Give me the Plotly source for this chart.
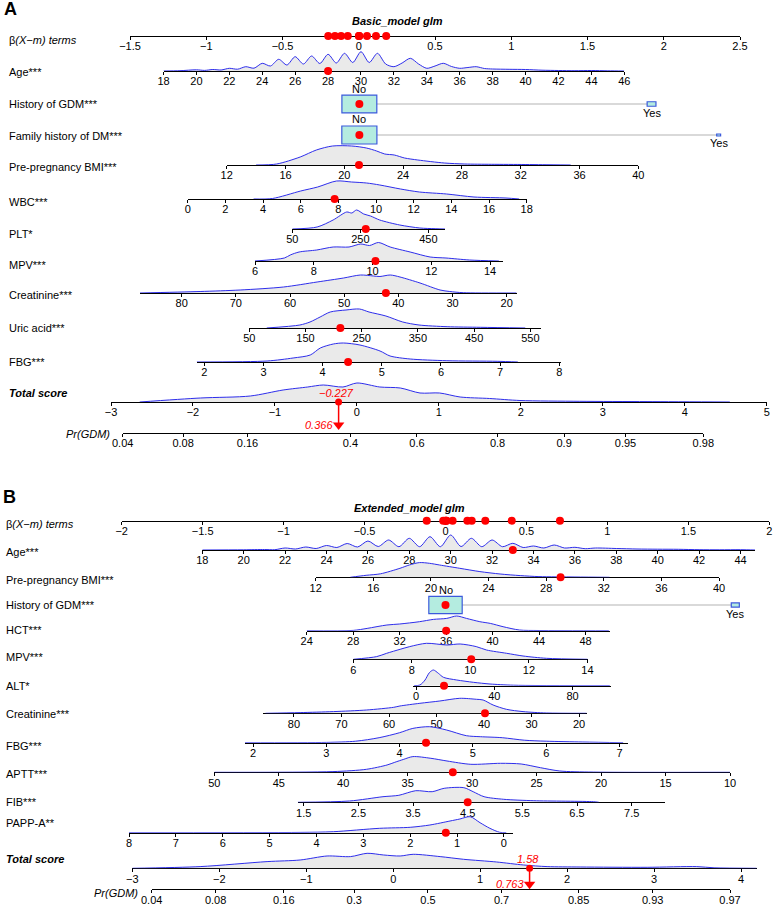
import math
import plotly.graph_objects as go

W, H = 778, 904
FONT = "Liberation Sans, Arial, Helvetica, sans-serif"
BLUE = "rgb(45,45,235)"
FILL = "rgb(234,234,234)"
RED = "#ff0000"
MINT = "rgb(180,236,224)"
BOXLINE = "rgb(60,90,220)"
GRAYLINE = "rgb(205,205,205)"
DH = 22          # height (px) of each density strip
BOX_W, BOX_H = 36, 18.5

# ======================= Panel A data =======================
A_title = "Basic_model glm"
A_beta_range = [-1.5, 2.5]
A_beta_ticks = [-1.5, -1, -0.5, 0, 0.5, 1, 1.5, 2, 2.5]
A_beta_points = [-0.200, -0.156, -0.116, -0.072, 0.002, 0.002, 0.002, 0.054, 0.113, 0.180]

A_age_range = [18, 46]
A_age_ticks = [18, 20, 22, 24, 26, 28, 30, 32, 34, 36, 38, 40, 42, 44, 46]
A_age_x = [18, 19, 20, 20.5, 21, 21.5, 22, 22.5, 23, 23.5, 24, 24.5, 25, 25.5, 26, 26.5, 27, 27.5, 28, 28.5,
           29, 29.5, 30, 30.5, 31, 31.5, 32, 32.5, 33, 33.5, 34, 34.5, 35, 35.5, 36, 36.5, 37, 37.5, 38, 39,
           40, 41, 42, 43, 44, 45, 46]
A_age_d = [0, 0.3, 1.2, 0.6, 1.5, 1.0, 2.7, 1.8, 4.3, 2.8, 7.7, 5.0, 11.7, 6.0, 14.3, 7.0, 15.0, 7.5, 16.7, 8.0,
           17.7, 8.5, 19.3, 8.5, 17.7, 7.0, 4.3, 8.0, 12.7, 7.0, 2.7, 5.0, 7.7, 4.5, 2.7, 3.5, 4.3, 2.5, 2.0, 1.7,
           1.5, 0.8, 0.5, 0.3, 0.5, 0.2, 0]
A_age_val = 28

A_gdm_levels = ["No", "Yes"]
A_gdm_beta = [0.004, 1.92]
A_gdm_freq = [0.94, 0.06]
A_fam_levels = ["No", "Yes"]
A_fam_beta = [0.004, 2.36]
A_fam_freq = [0.95, 0.012]

A_bmi_range = [12, 40]
A_bmi_ticks = [12, 16, 20, 24, 28, 32, 36, 40]
A_bmi_x = [14.0, 15.4, 17.0, 18.1, 19.2, 20.5, 21.5, 22.2, 22.75, 23.4, 24.1, 25.0, 26.8, 28.2, 30.0, 32.3, 33.5, 35.4]
A_bmi_d = [0, 1.0, 8.0, 15.0, 19.0, 19.0, 17.0, 14.0, 11.0, 10.0, 7.0, 5.0, 2.0, 1.0, 0.7, 0.5, 0.3, 0]
A_bmi_val = 21.0

A_wbc_range = [0, 18]
A_wbc_ticks = [0, 2, 4, 6, 8, 10, 12, 14, 16, 18]
A_wbc_x = [3.5, 4.5, 6.0, 6.9, 7.9, 8.7, 9.5, 10.2, 11.3, 12.3, 13.75, 15.2, 16.9, 17.6]
A_wbc_d = [0, 0.5, 8.0, 12.0, 18.0, 17.0, 16.0, 14.0, 10.0, 7.0, 5.0, 2.0, 1.0, 0]
A_wbc_val = 7.8

A_plt_range = [50, 499]
A_plt_ticks = [50, 250, 450]
A_plt_x = [50, 123, 170, 210, 225, 239, 260, 280, 307, 366, 425, 470, 499]
A_plt_d = [0, 2.0, 9.0, 17.0, 16.0, 19.0, 15.0, 13.0, 9.0, 4.0, 1.0, 0.3, 0]
A_plt_val = 266

A_mpv_range = [6, 14.43]
A_mpv_ticks = [6, 8, 10, 12, 14]
A_mpv_x = [6.0, 7.0, 7.2, 7.5, 8.1, 8.66, 9.2, 9.6, 9.9, 10.2, 10.6, 11.28, 11.96, 12.5, 13.3, 14.3]
A_mpv_d = [0, 3.0, 6.0, 9.0, 11.0, 14.0, 14.0, 17.0, 15.5, 18.5, 14.0, 9.0, 4.0, 3.0, 1.0, 0]
A_mpv_val = 10.1

A_creat_range = [87.7, 18.15]
A_creat_ticks = [80, 70, 60, 50, 40, 30, 20]
A_creat_x = [87.7, 76.6, 69.2, 61.2, 55.0, 50.1, 47.0, 44.6, 43.4, 41.5, 39.7, 36.0, 32.3, 30.5, 28.0, 18.2]
A_creat_d = [0, 1.5, 3.0, 6.0, 11.0, 15.0, 18.0, 17.0, 16.5, 18.0, 16.0, 10.0, 3.0, 1.5, 0.3, 0]
A_creat_val = 42.3

A_uric_range = [50, 569]
A_uric_ticks = [50, 150, 250, 350, 450, 550]
A_uric_x = [81, 140, 158, 176, 194, 222, 246, 263, 293, 323, 352, 402, 461, 541]
A_uric_d = [0, 3.0, 6.0, 11.0, 16.0, 18.0, 19.0, 16.0, 12.0, 6.0, 3.0, 1.3, 0.7, 0]
A_uric_val = 212

A_fbg_range = [1.87, 8.03]
A_fbg_ticks = [2, 3, 4, 5, 6, 7, 8]
A_fbg_x = [1.87, 3.06, 3.5, 3.79, 3.96, 4.18, 4.35, 4.63, 4.97, 5.14, 5.48, 6.1, 6.95, 7.3]
A_fbg_d = [0, 1.0, 4.0, 7.0, 14.0, 18.0, 19.0, 17.0, 11.0, 6.0, 3.0, 1.3, 0.7, 0]
A_fbg_val = 4.43

A_total_range = [-3, 5]
A_total_ticks = [-3, -2, -1, 0, 1, 2, 3, 4, 5]
A_total_x = [-2.65, -1.91, -1.3, -0.9, -0.6, -0.41, -0.17, 0.0, 0.28, 0.53, 0.77, 1.01, 1.26, 1.62, 1.99, 2.72, 3.54, 4.55]
A_total_d = [0, 4.0, 6.0, 12.0, 15.0, 17.0, 15.0, 19.0, 15.0, 14.0, 9.0, 9.0, 5.0, 3.5, 1.5, 0.7, 0.4, 0]
A_total_val = -0.227
A_pr_range = [0.04, 0.98]
A_pr_ticks = [0.04, 0.08, 0.16, 0.4, 0.6, 0.8, 0.9, 0.95, 0.98]
A_pr_shift = -0.322      # logit(Pr) = total score + shift
A_pr_val = 0.366

# ======================= Panel B data =======================
B_title = "Extended_model glm"
B_beta_range = [-2, 2]
B_beta_ticks = [-2, -1.5, -1, -0.5, 0, 0.5, 1, 1.5, 2]
B_beta_points = [0.409, 0.707, 0.0, 0.007, 0.162, -0.014, 0.246, -0.116, 0.044, 0.135, 0.003]

B_age_range = [18, 44.7]
B_age_ticks = [18, 20, 22, 24, 26, 28, 30, 32, 34, 36, 38, 40, 42, 44]
B_age_x = [18, 20, 21, 21.5, 22, 22.5, 23, 23.5, 24, 24.5, 25, 25.5, 26, 26.5, 27, 27.5, 28, 28.5, 29, 29.5,
           30, 30.5, 31, 31.5, 32, 32.5, 33, 33.5, 34, 34.5, 35, 35.5, 36, 36.5, 37, 38, 39, 40, 41, 42,
           43, 44, 44.7]
B_age_d = [0, 0.2, 0.5, 0.3, 2.0, 1.0, 3.0, 1.5, 4.5, 2.5, 6.5, 3.0, 9.0, 3.5, 10.0, 3.3, 11.7, 3.3, 13.3, 3.3,
           15.0, 3.5, 11.7, 3.3, 10.0, 3.3, 6.7, 2.5, 4.0, 2.0, 5.0, 2.0, 2.7, 1.3, 2.0, 1.5, 1.0, 0.8, 0.7, 0.3,
           0.2, 0.3, 0]
B_age_val = 33

B_bmi_range = [12, 40]
B_bmi_ticks = [12, 16, 20, 24, 28, 32, 36, 40]
B_bmi_x = [14.4, 15.5, 16.5, 17.85, 18.5, 19.2, 19.9, 20.6, 22.0, 23.4, 24.8, 26.2, 27.5, 30.0, 32.4]
B_bmi_d = [0, 2.0, 3.5, 9.0, 12.3, 14.7, 14.0, 12.3, 9.0, 5.7, 3.3, 1.7, 0.7, 0.3, 0]
B_bmi_val = 29.0

B_gdm_levels = ["No", "Yes"]
B_gdm_beta = [0.0, 1.79]
B_gdm_freq = [0.86, 0.05]

B_hct_range = [24, 50.1]
B_hct_ticks = [24, 28, 32, 36, 40, 44, 48]
B_hct_x = [24, 28, 29.2, 30.9, 32.0, 33.7, 34.9, 36.05, 36.9, 37.75, 38.9, 39.8, 40.9, 42.3, 44.0, 50.0]
B_hct_d = [0, 0.3, 2.3, 5.7, 6.7, 9.0, 11.3, 12.3, 14.7, 12.3, 9.0, 7.3, 4.0, 0.7, 0.2, 0]
B_hct_val = 36.0

B_mpv_range = [6, 14.03]
B_mpv_ticks = [6, 8, 10, 12, 14]
B_mpv_x = [6.0, 6.8, 7.14, 7.6, 7.93, 8.5, 9.2, 9.65, 10.2, 10.55, 11.24, 11.8, 12.6, 14.0]
B_mpv_d = [0, 2.7, 6.0, 10.0, 12.7, 16.0, 14.3, 15.3, 12.7, 9.3, 6.0, 3.3, 1.0, 0]
B_mpv_val = 10.03

B_alt_range = [-1.4, 99.6]
B_alt_ticks = [0, 40, 80]
B_alt_x = [-1.0, 2.0, 4.6, 6.8, 8.85, 11.4, 14.0, 20.8, 29.3, 37.8, 49.8, 99.0]
B_alt_d = [0, 0.7, 5.7, 13.0, 15.7, 12.4, 8.4, 5.7, 3.4, 1.7, 0.5, 0]
B_alt_val = 14.3

B_creat_range = [86.45, 18.4]
B_creat_ticks = [80, 70, 60, 50, 40, 30, 20]
B_creat_x = [86.0, 78.7, 71.7, 64.7, 59.0, 57.7, 53.5, 49.3, 45.1, 41.6, 40.2, 38.1, 35.3, 31.8, 26.9, 18.4]
B_creat_d = [0, 0.7, 1.7, 3.3, 6.0, 7.3, 10.0, 12.3, 15.0, 14.0, 13.3, 8.3, 4.0, 1.7, 0.3, 0]
B_creat_val = 39.8

B_fbg_range = [1.89, 7.12]
B_fbg_ticks = [2, 3, 4, 5, 6, 7]
B_fbg_x = [1.89, 3.0, 3.4, 3.72, 4.0, 4.18, 4.41, 4.64, 4.91, 5.1, 5.4, 5.7, 6.0, 6.5, 7.05]
B_fbg_d = [0, 0.3, 1.5, 5.0, 10.0, 14.3, 16.0, 12.7, 7.0, 6.0, 5.0, 2.5, 1.5, 0.7, 0]
B_fbg_val = 4.36

B_aptt_range = [50, 10]
B_aptt_ticks = [50, 45, 40, 35, 30, 25, 20, 15, 10]
B_aptt_x = [50, 40.8, 38.2, 36.6, 36.0, 35.3, 34.6, 33.2, 31.95, 30.1, 27.8, 26.2, 24.7, 23.2, 20.6, 10]
B_aptt_d = [0, 0.7, 3.0, 7.3, 10.0, 13.0, 15.7, 14.0, 11.3, 8.0, 9.0, 8.3, 4.6, 1.3, 0.2, 0]
B_aptt_val = 31.5

B_fib_range = [1.39, 8.11]
B_fib_ticks = [1.5, 2.5, 3.5, 4.5, 5.5, 6.5, 7.5]
B_fib_x = [1.39, 2.34, 2.95, 3.24, 3.55, 3.85, 4.07, 4.43, 4.6, 4.8, 5.16, 5.71, 6.8, 6.9]
B_fib_d = [0, 1.3, 5.6, 7.0, 11.6, 10.6, 14.0, 14.6, 10.6, 5.6, 3.0, 1.6, 0.6, 0]
B_fib_val = 4.5

B_papp_range = [8, -0.2]
B_papp_ticks = [8, 7, 6, 5, 4, 3, 2, 1, 0]
B_papp_x = [8.0, 4.35, 3.64, 2.65, 2.0, 1.58, 1.15, 0.94, 0.72, 0.51, 0.3, 0.09, -0.05]
B_papp_d = [0, 0.3, 1.0, 4.4, 5.4, 7.7, 11.7, 13.7, 16.0, 10.0, 4.4, 0.4, 0]
B_papp_val = 1.24

B_total_range = [-3, 4.18]
B_total_ticks = [-3, -2, -1, 0, 1, 2, 3, 4]
B_total_x = [-3.0, -2.22, -1.45, -1.07, -0.76, -0.49, -0.3, -0.11, 0.08, 0.23, 0.54, 0.81, 1.19, 1.5, 1.77,
             2.15, 2.92, 3.49, 3.69, 4.18]
B_total_d = [0, 1.7, 6.7, 8.3, 12.3, 11.7, 15.0, 13.3, 12.3, 14.0, 11.7, 9.0, 6.3, 3.3, 1.7, 1.3, 1.0, 1.7, 0.5, 0]
B_total_val = 1.58
B_pr_range = [0.04, 0.97]
B_pr_ticks = [0.04, 0.08, 0.16, 0.3, 0.5, 0.7, 0.85, 0.93, 0.97]
B_pr_shift = -0.41
B_pr_val = 0.763

# ======================= layout (pixel positions) =======================
LA = {
    "beta": dict(y=36, x0=130, x1=740, ly=40),
    "age": dict(y=71, x0=163.5, x1=624.3, ly=72),
    "gdm": dict(y=104, ly=104),
    "fam": dict(y=135, ly=136),
    "bmi": dict(y=165, x0=226.7, x1=638.3, ly=167),
    "wbc": dict(y=199, x0=187.7, x1=526.7, ly=202),
    "plt": dict(y=229, x0=292.3, x1=445, ly=234),
    "mpv": dict(y=261, x0=255, x1=502.7, ly=265),
    "creat": dict(y=293, x0=140, x1=516.7, ly=295),
    "uric": dict(y=328, x0=249.3, x1=541, ly=328),
    "fbg": dict(y=362, x0=196.7, x1=561, ly=362),
    "total": dict(y=402, x0=111, x1=766.7, ly=393),
    "pr": dict(y=433, x0=122.7, x1=703.3, ly=434, lx=112),
}
LB = {
    "beta": dict(y=520.7, x0=121.7, x1=769.3, ly=524.3),
    "age": dict(y=550, x0=202.3, x1=755, ly=552.3),
    "bmi": dict(y=577.3, x0=315.7, x1=719, ly=580),
    "gdm": dict(y=605, ly=605),
    "hct": dict(y=630.7, x0=306.7, x1=610, ly=630),
    "mpv": dict(y=659.3, x0=353.3, x1=588.3, ly=656.7),
    "alt": dict(y=685.7, x0=413.3, x1=611, ly=686),
    "creat": dict(y=713.3, x0=263.3, x1=586.7, ly=714.3),
    "fbg": dict(y=742.7, x0=245, x1=628.3, ly=745.5),
    "aptt": dict(y=772.3, x0=214.3, x1=730, ly=774.3),
    "fib": dict(y=802.3, x0=297.7, x1=665, ly=801.7),
    "papp": dict(y=832.7, x0=129, x1=513.3, ly=822.7),
    "total": dict(y=868.3, x0=132.3, x1=756.7, ly=859),
    "pr": dict(y=889.3, x0=151.7, x1=730, ly=893.3, lx=140),
}

# ======================= builders =======================
fig = go.Figure()
axes = {}
shapes = []
annos = []
count = [0]


def fmt(v):
    return ("%g" % v).replace("-", "\u2212")


def new_axes(x0, x1, ybot, ytop, xrange, yrange, xstyle):
    count[0] += 1
    i = count[0]
    s = "" if i == 1 else str(i)
    axes["xaxis" + s] = dict(domain=[x0 / W, x1 / W], range=xrange, anchor="y" + s, **xstyle)
    axes["yaxis" + s] = dict(domain=[1 - ybot / H, 1 - ytop / H], range=yrange, anchor="x" + s,
                             visible=False, fixedrange=True)
    return "x" + s, "y" + s


def axis_style(tickvals, ticktext=None):
    return dict(showline=True, linecolor="black", linewidth=1, ticks="outside", ticklen=3, tickwidth=1,
                tickcolor="black", tickmode="array", tickvals=tickvals,
                ticktext=ticktext if ticktext is not None else [fmt(t) for t in tickvals],
                tickfont=dict(family=FONT, size=11, color="black"), showgrid=False, zeroline=False,
                ticklabelstandoff=-3, layer="below traces", fixedrange=True, automargin=False)


def red_dots(xr, yr, xs, size=8):
    fig.add_trace(go.Scatter(x=xs, y=[0] * len(xs), xaxis=xr, yaxis=yr, mode="markers",
                             marker=dict(color=RED, size=size, line=dict(width=0)),
                             cliponaxis=False, hoverinfo="skip"))


def beta_row(L, rng, ticks, points):
    xr, yr = new_axes(L["x0"], L["x1"], L["y"], L["y"] - 10, rng, [0, 10], axis_style(ticks))
    red_dots(xr, yr, points)


def cont_row(L, rng, ticks, dx, dy, val):
    xr, yr = new_axes(L["x0"], L["x1"], L["y"], L["y"] - DH, rng, [0, DH], axis_style(ticks))
    fig.add_trace(go.Scatter(x=dx, y=dy, xaxis=xr, yaxis=yr, mode="lines",
                             line=dict(color=BLUE, width=1, shape="spline", smoothing=0.8),
                             fill="tozeroy", fillcolor=FILL, hoverinfo="skip"))
    if val is not None:
        red_dots(xr, yr, [val])
    return xr, yr


def cat_row(L, Lbeta, rng, levels, betas, freqs):
    xr, yr = new_axes(Lbeta["x0"], Lbeta["x1"], L["y"] + 14, L["y"] - 14, rng, [-14, 14],
                      dict(visible=False, fixedrange=True))
    shapes.append(dict(type="line", xref=xr, yref=yr, x0=betas[0], x1=betas[-1], y0=0, y1=0,
                       line=dict(color=GRAYLINE, width=1.5), layer="below"))
    for k, (lev, b, f) in enumerate(zip(levels, betas, freqs)):
        w = BOX_W * math.sqrt(f)
        h = BOX_H * math.sqrt(f)
        shapes.append(dict(type="rect", xref=xr, yref=yr, xsizemode="pixel", xanchor=b, x0=-w / 2, x1=w / 2,
                           ysizemode="pixel", yanchor=0, y0=-h / 2, y1=h / 2, fillcolor=MINT,
                           line=dict(color=BOXLINE, width=1.2), layer="below"))
        annos.append(dict(xref=xr, yref=yr, x=b, y=0, text=lev, showarrow=False,
                          font=dict(family=FONT, size=11, color="black"), xanchor="center", yanchor="middle",
                          yshift=(h / 2 + 6.5) if k == 0 else -(h / 2 + 7)))
    red_dots(xr, yr, [betas[0]])


def total_rows(Lt, Lp, rng, ticks, dx, dy, tot, pr_ticks, shift, pr_range, pr_val, tri_gap):
    cont_row(Lt, rng, ticks, dx, dy, None)

    def pos(p):
        return math.log(p / (1 - p)) - shift

    span = Lp["y"] - Lt["y"]
    xp, yp = new_axes(Lp["x0"], Lp["x1"], Lp["y"], Lt["y"], [pos(pr_range[0]), pos(pr_range[1])], [0, span],
                      axis_style([pos(p) for p in pr_ticks], [fmt(p) for p in pr_ticks]))
    fig.add_trace(go.Scatter(x=[tot, tot], y=[span, tri_gap], xaxis=xp, yaxis=yp, mode="lines",
                             line=dict(color=RED, width=1.5), cliponaxis=False, hoverinfo="skip"))
    fig.add_trace(go.Scatter(x=[tot], y=[tri_gap], xaxis=xp, yaxis=yp, mode="markers",
                             marker=dict(symbol="triangle-down", size=10, color=RED, line=dict(width=0)),
                             cliponaxis=False, hoverinfo="skip"))
    fig.add_trace(go.Scatter(x=[tot], y=[span], xaxis=xp, yaxis=yp, mode="markers",
                             marker=dict(size=7, color=RED, line=dict(width=0)),
                             cliponaxis=False, hoverinfo="skip"))
    annos.append(dict(xref=xp, yref=yp, x=tot, y=span, text="<i>%s</i>" % fmt(tot), showarrow=False,
                      font=dict(family=FONT, size=11, color=RED), xanchor="center", yanchor="middle",
                      yshift=9, xshift=-2))
    annos.append(dict(xref=xp, yref=yp, x=tot, y=tri_gap, text="<i>%s</i>" % fmt(pr_val), showarrow=False,
                      font=dict(family=FONT, size=11, color=RED), xanchor="right", yanchor="middle",
                      xshift=-4))


def label(text, x, y, anchor="left", bold=False, italic=False, size=11):
    t = text
    if italic:
        t = "<i>%s</i>" % t
    if bold:
        t = "<b>%s</b>" % t
    annos.append(dict(xref="paper", yref="paper", x=x / W, y=1 - y / H, text=t, showarrow=False,
                      font=dict(family=FONT, size=size, color="black"), xanchor=anchor, yanchor="middle"))


# ---------------- Panel A ----------------
beta_row(LA["beta"], A_beta_range, A_beta_ticks, A_beta_points)
cont_row(LA["age"], A_age_range, A_age_ticks, A_age_x, A_age_d, A_age_val)
cat_row(LA["gdm"], LA["beta"], A_beta_range, A_gdm_levels, A_gdm_beta, A_gdm_freq)
cat_row(LA["fam"], LA["beta"], A_beta_range, A_fam_levels, A_fam_beta, A_fam_freq)
cont_row(LA["bmi"], A_bmi_range, A_bmi_ticks, A_bmi_x, A_bmi_d, A_bmi_val)
cont_row(LA["wbc"], A_wbc_range, A_wbc_ticks, A_wbc_x, A_wbc_d, A_wbc_val)
cont_row(LA["plt"], A_plt_range, A_plt_ticks, A_plt_x, A_plt_d, A_plt_val)
cont_row(LA["mpv"], A_mpv_range, A_mpv_ticks, A_mpv_x, A_mpv_d, A_mpv_val)
cont_row(LA["creat"], A_creat_range, A_creat_ticks, A_creat_x, A_creat_d, A_creat_val)
cont_row(LA["uric"], A_uric_range, A_uric_ticks, A_uric_x, A_uric_d, A_uric_val)
cont_row(LA["fbg"], A_fbg_range, A_fbg_ticks, A_fbg_x, A_fbg_d, A_fbg_val)
total_rows(LA["total"], LA["pr"], A_total_range, A_total_ticks, A_total_x, A_total_d, A_total_val,
           A_pr_ticks, A_pr_shift, A_pr_range, A_pr_val, 8)

A_labels = [("beta", "\u03b2<i>(X\u2212m) terms</i>"), ("age", "Age***"), ("gdm", "History of GDM***"),
            ("fam", "Family history of DM***"), ("bmi", "Pre-pregnancy BMI***"), ("wbc", "WBC***"),
            ("plt", "PLT*"), ("mpv", "MPV***"), ("creat", "Creatinine***"), ("uric", "Uric acid***"),
            ("fbg", "FBG***")]
for key, txt in A_labels:
    label(txt, 7, LA[key]["ly"])
label("Total score", 7, LA["total"]["ly"], bold=True, italic=True)
label("Pr(GDM)", LA["pr"]["lx"], LA["pr"]["ly"], anchor="right", italic=True)
label("A", 2, 9, bold=True, size=18)
label(A_title, 397, 21, anchor="center", bold=True, italic=True)

# ---------------- Panel B ----------------
beta_row(LB["beta"], B_beta_range, B_beta_ticks, B_beta_points)
cont_row(LB["age"], B_age_range, B_age_ticks, B_age_x, B_age_d, B_age_val)
cont_row(LB["bmi"], B_bmi_range, B_bmi_ticks, B_bmi_x, B_bmi_d, B_bmi_val)
cat_row(LB["gdm"], LB["beta"], B_beta_range, B_gdm_levels, B_gdm_beta, B_gdm_freq)
cont_row(LB["hct"], B_hct_range, B_hct_ticks, B_hct_x, B_hct_d, B_hct_val)
cont_row(LB["mpv"], B_mpv_range, B_mpv_ticks, B_mpv_x, B_mpv_d, B_mpv_val)
cont_row(LB["alt"], B_alt_range, B_alt_ticks, B_alt_x, B_alt_d, B_alt_val)
cont_row(LB["creat"], B_creat_range, B_creat_ticks, B_creat_x, B_creat_d, B_creat_val)
cont_row(LB["fbg"], B_fbg_range, B_fbg_ticks, B_fbg_x, B_fbg_d, B_fbg_val)
cont_row(LB["aptt"], B_aptt_range, B_aptt_ticks, B_aptt_x, B_aptt_d, B_aptt_val)
cont_row(LB["fib"], B_fib_range, B_fib_ticks, B_fib_x, B_fib_d, B_fib_val)
cont_row(LB["papp"], B_papp_range, B_papp_ticks, B_papp_x, B_papp_d, B_papp_val)
total_rows(LB["total"], LB["pr"], B_total_range, B_total_ticks, B_total_x, B_total_d, B_total_val,
           B_pr_ticks, B_pr_shift, B_pr_range, B_pr_val, 5)

B_labels = [("beta", "\u03b2<i>(X\u2212m) terms</i>"), ("age", "Age***"), ("bmi", "Pre-pregnancy BMI***"),
            ("gdm", "History of GDM***"), ("hct", "HCT***"), ("mpv", "MPV***"), ("alt", "ALT*"),
            ("creat", "Creatinine***"), ("fbg", "FBG***"), ("aptt", "APTT***"), ("fib", "FIB***"),
            ("papp", "PAPP-A**")]
for key, txt in B_labels:
    label(txt, 3.5, LB[key]["ly"])
label("Total score", 3.5, LB["total"]["ly"], bold=True, italic=True)
label("Pr(GDM)", LB["pr"]["lx"], LB["pr"]["ly"], anchor="right", italic=True)
label("B", 1, 497, bold=True, size=18)
label(B_title, 409, 508, anchor="center", bold=True, italic=True)

fig.update_layout(width=W, height=H, margin=dict(l=0, r=0, t=0, b=0, pad=0, autoexpand=False),
                  paper_bgcolor="white", plot_bgcolor="rgba(0,0,0,0)", showlegend=False, hovermode=False,
                  font=dict(family=FONT, size=11, color="black"), shapes=shapes, annotations=annos, **axes)

fig.write_html("out.html", config={"displayModeBar": False, "responsive": False},
               post_script="document.body.style.margin='0px';document.body.style.overflow='hidden';")
